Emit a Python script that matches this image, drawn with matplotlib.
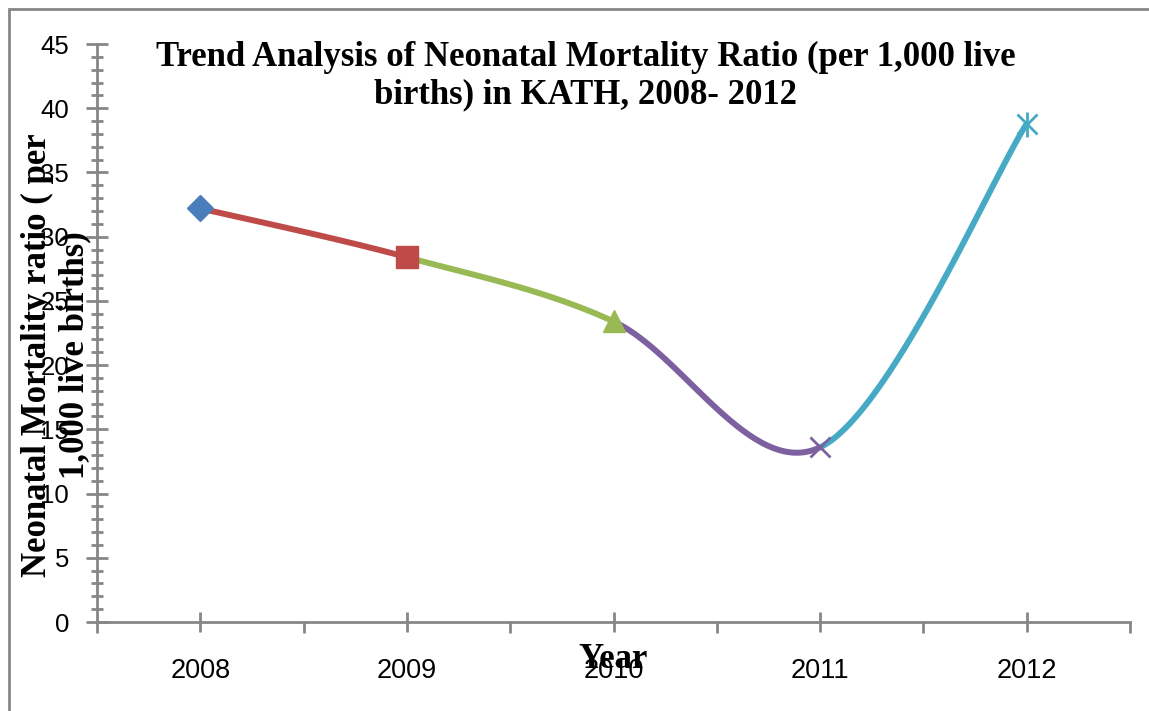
import numpy as np
import matplotlib
matplotlib.use('Agg')
import matplotlib.pyplot as plt
from matplotlib.patches import Rectangle

# data
years = ['2008', '2009', '2010', '2011', '2012']
ratios = [32.2, 28.4, 23.4, 13.6, 38.8]

seg_colors = ['#BE4B48', '#98B954', '#7D60A0', '#46AAC5']
serif = ['Liberation Serif', 'DejaVu Serif']
sans = ['Liberation Sans', 'DejaVu Sans']
axis_grey = '#868686'


def bezier_segment(pts, i, n=60):
    # excel-like smoothing: cubic bezier with control points from neighbours
    p_prev = pts[i - 1] if i > 0 else pts[i]
    p0 = pts[i]
    p3 = pts[i + 1]
    p_next = pts[i + 2] if i + 2 < len(pts) else pts[i + 1]
    p1 = p0 + (p3 - p_prev) / 6
    p2 = p3 - (p_next - p0) / 6
    t = np.linspace(0, 1, n)[:, None]
    return (1 - t) ** 3 * p0 + 3 * t * (1 - t) ** 2 * p1 + 3 * t ** 2 * (1 - t) * p2 + t ** 3 * p3


fig = plt.figure(figsize=(11.49, 7.11), dpi=100)
ax = fig.add_axes([97 / 1149, 1 - 622 / 711, (1130 - 97) / 1149, (622 - 44) / 711])

x = np.arange(len(years))
pts = np.column_stack([x, ratios]).astype(float)

for i in range(len(pts) - 1):
    seg = bezier_segment(pts, i)
    ax.plot(seg[:, 0], seg[:, 1], color=seg_colors[i], lw=4.3, solid_capstyle='butt', zorder=2)

# markers
ax.plot(x[0], ratios[0], marker='D', ms=13, color='#4A7EBB', ls='none', zorder=3)
ax.plot(x[1], ratios[1], marker='s', ms=16, color='#BE4B48', ls='none', zorder=3)
ax.plot(x[2], ratios[2], marker='^', ms=16, color='#98B954', ls='none', zorder=3)
ax.plot(x[3], ratios[3], marker='x', ms=14, mew=2, color='#7D60A0', ls='none', zorder=3)
ax.plot(x[4], ratios[4], marker='x', ms=14, mew=2, color='#46AAC5', ls='none', zorder=3)
ax.plot(x[4], ratios[4], marker='|', ms=18, mew=2, color='#46AAC5', ls='none', zorder=3)

ax.set_xlim(-0.5, len(years) - 0.5)
ax.set_ylim(0, 45)
ax.set_xticks(x)
ax.set_xticklabels(years, fontfamily=sans, fontsize=19.5)
ax.set_xticks(np.arange(-0.5, len(years)), minor=True)
ax.set_yticks(np.arange(0, 46, 5))
ax.set_yticks(np.arange(0, 46, 1), minor=True)
ax.set_yticklabels([str(v) for v in range(0, 46, 5)], fontfamily=sans, fontsize=18.5)

for s in ['top', 'right']:
    ax.spines[s].set_visible(False)
for s in ['left', 'bottom']:
    ax.spines[s].set_color(axis_grey)
    ax.spines[s].set_linewidth(2)

ax.tick_params(axis='x', which='major', direction='inout', length=14, width=2, color=axis_grey, pad=19)
ax.tick_params(axis='x', which='minor', direction='out', length=8, width=2, color=axis_grey)
ax.tick_params(axis='y', which='major', direction='inout', length=16, width=2, color=axis_grey, pad=12)
ax.tick_params(axis='y', which='minor', direction='inout', length=9, width=2, color=axis_grey)

# titles and axis labels
fig.text(586 / 1149, 1 - 76 / 711,
         'Trend Analysis of Neonatal Mortality Ratio (per 1,000 live\nbirths) in KATH, 2008- 2012',
         ha='center', va='center', fontfamily=serif, fontweight='bold', fontsize=25, linespacing=1.2)
fig.text(56 / 1149, 1 - 355 / 711, 'Neonatal Mortality ratio ( per\n1,000 live births)',
         rotation=90, ha='center', va='center', multialignment='center',
         fontfamily=serif, fontweight='bold', fontsize=25, linespacing=1.15)
fig.text(613 / 1149, 1 - 660 / 711, 'Year', ha='center', va='center',
         fontfamily=serif, fontweight='bold', fontsize=25)

# outer chart border
fig.patches.append(Rectangle((9 / 1149, -0.1), 1.2, 1 - 9 / 711 + 0.1, transform=fig.transFigure,
                             fill=False, edgecolor='#868686', lw=2))

fig.savefig('out.png', dpi=100)
